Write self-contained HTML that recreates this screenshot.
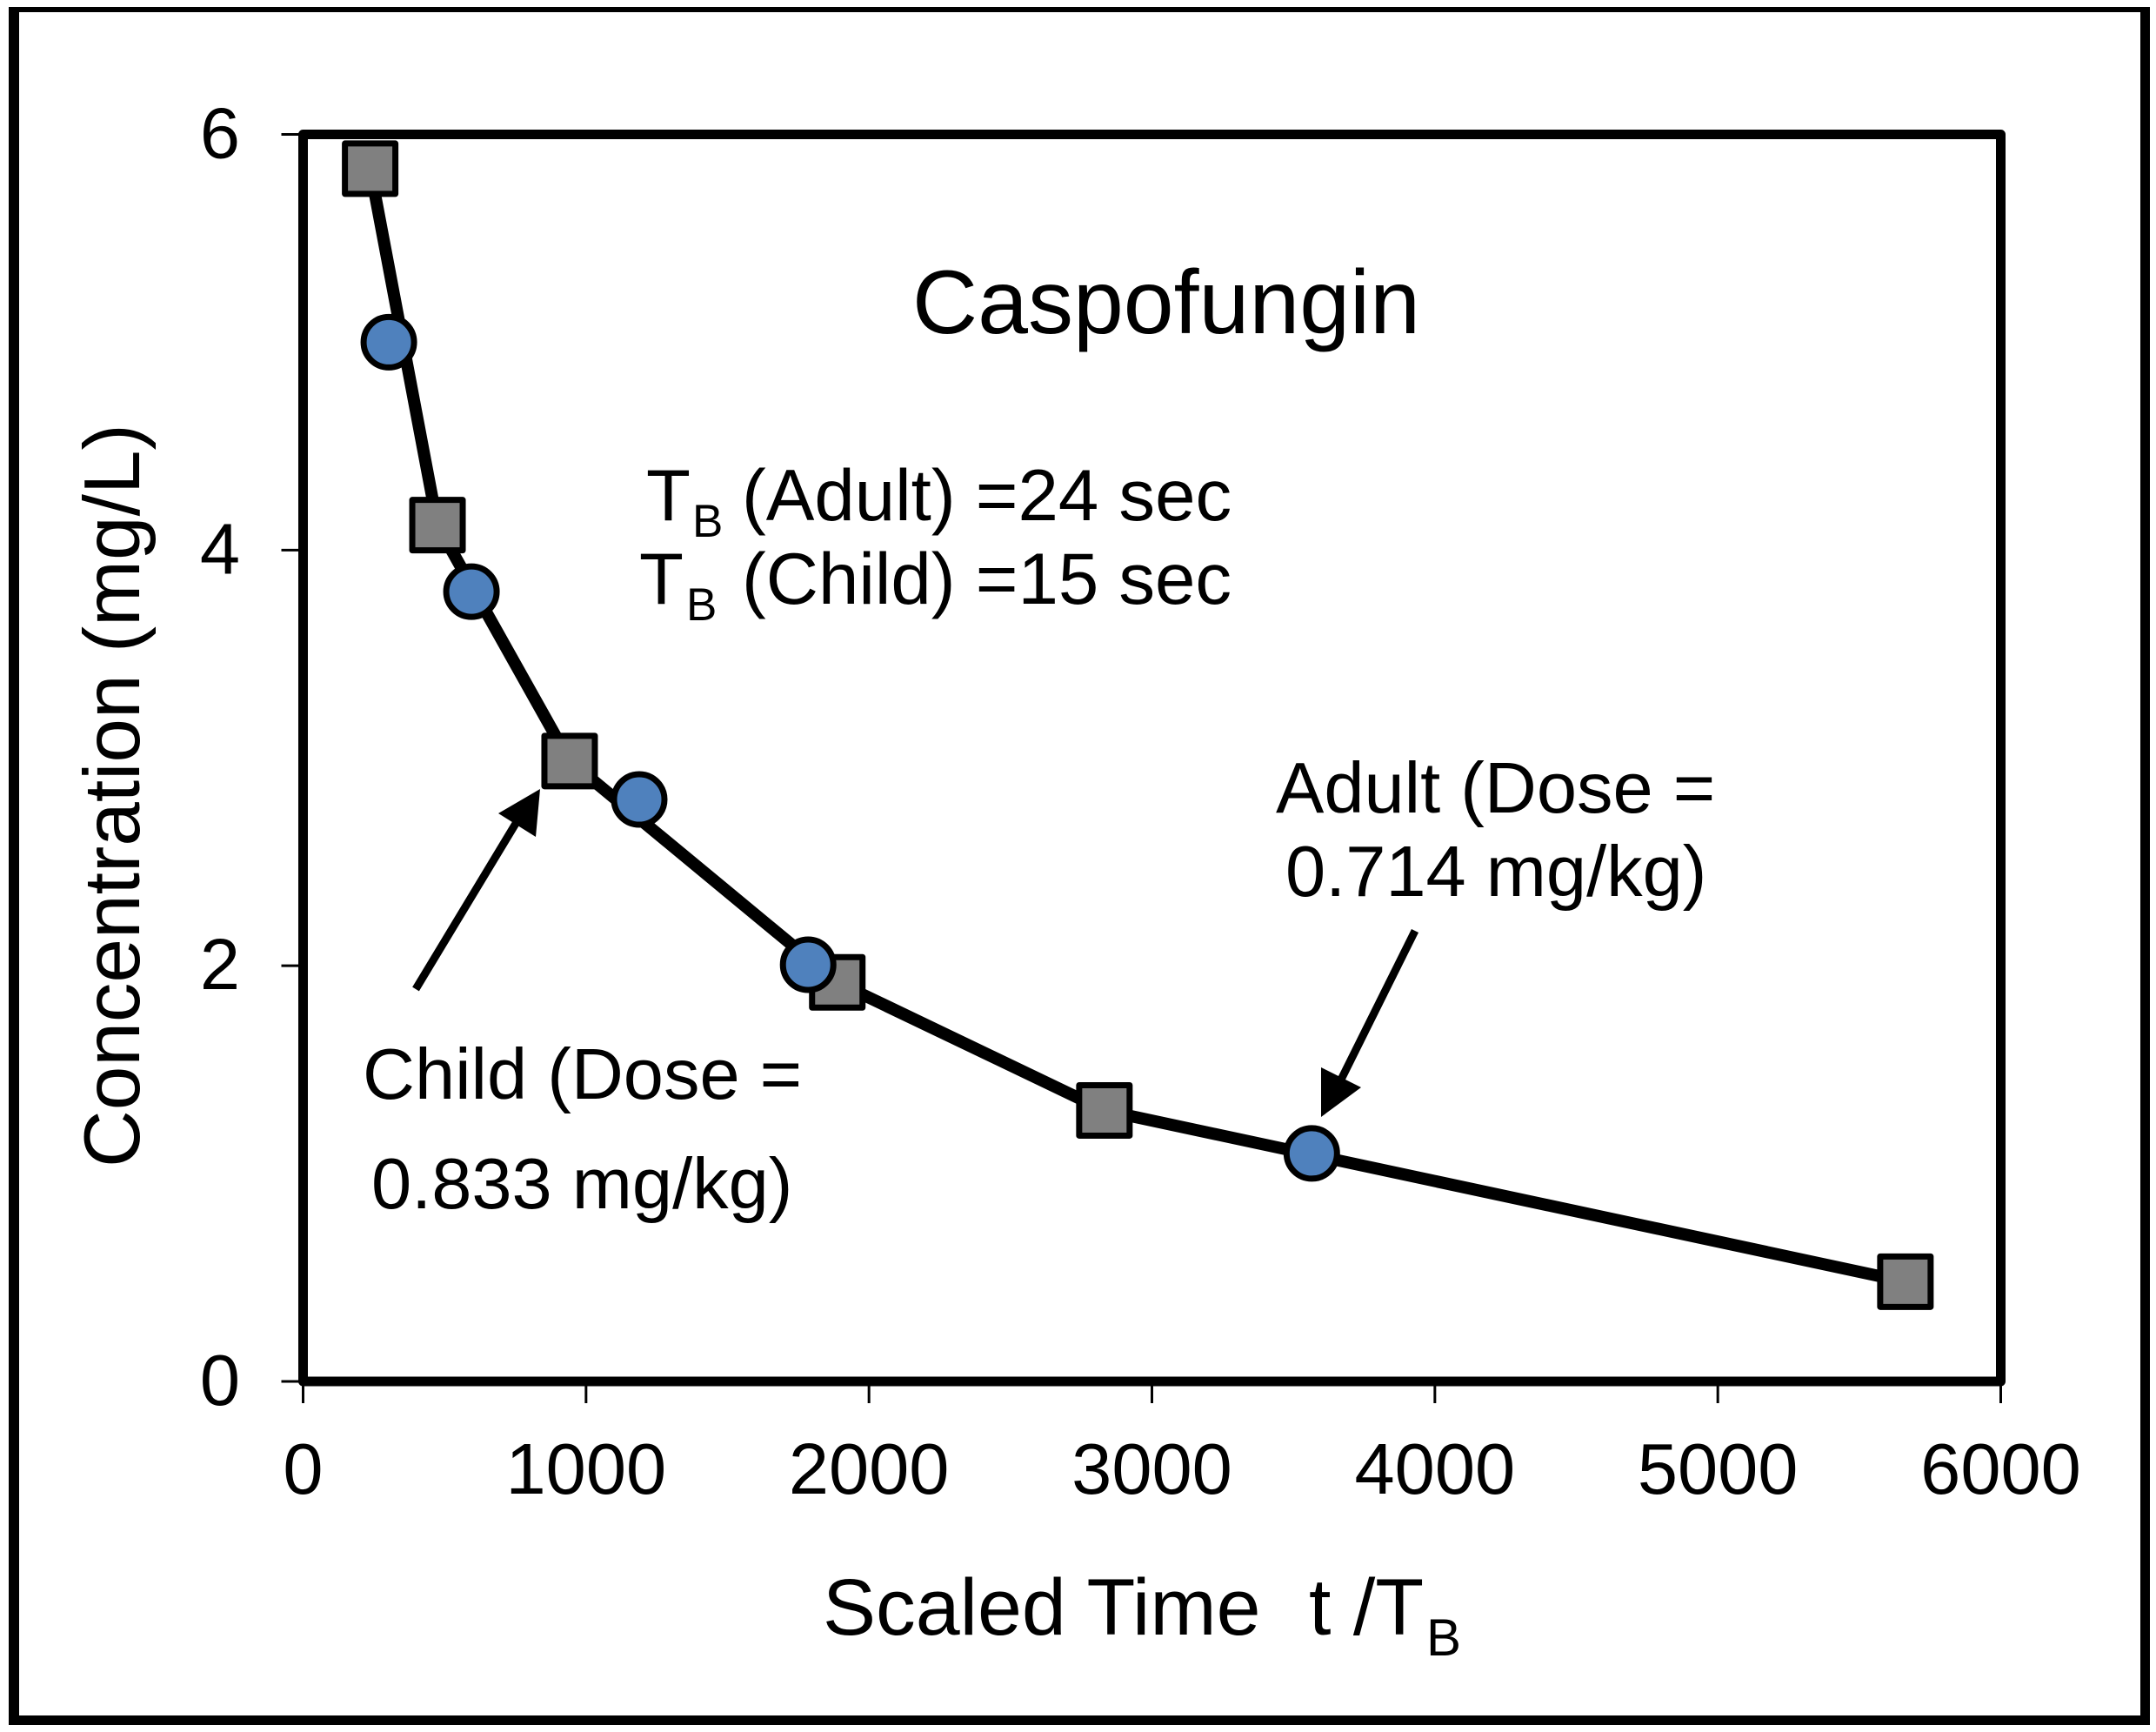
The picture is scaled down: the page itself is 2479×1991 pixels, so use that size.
<!DOCTYPE html>
<html>
<head>
<meta charset="utf-8">
<title>Caspofungin concentration vs scaled time</title>
<style>
html,body{margin:0;padding:0;background:#fff;width:2479px;height:1991px;overflow:hidden}
svg{display:block}
text{font-family:"Liberation Sans",sans-serif;fill:#000}
</style>
</head>
<body>
<svg id="chart" width="2479" height="1991" viewBox="0 0 2479 1991" xmlns="http://www.w3.org/2000/svg">
  <rect x="0" y="0" width="2479" height="1991" fill="#fff"/>
  <path d="M10 8H2472V1983H10Z M22 14V1972H2461V14Z" fill="#000" fill-rule="evenodd"/>
  <rect x="348.5" y="154.5" width="1952" height="1433.5" fill="none" stroke="#000" stroke-width="11" stroke-linejoin="round"/>
  <g id="ticks"></g>
  <g id="series-line"></g>
  <g id="markers"></g>

  <text x="1049" y="383" font-size="104">Caspofungin</text>

  <text y="598" font-size="83.4"><tspan x="743">T</tspan><tspan x="796" font-size="53" dy="19">B</tspan><tspan x="853" dy="-19">(Adult) =24 sec</tspan></text>
  <text y="694" font-size="83.4"><tspan x="735">T</tspan><tspan x="789" font-size="53" dy="19">B</tspan><tspan x="853" dy="-19">(Child) =15 sec</tspan></text>

  <text x="1467" y="934" font-size="83">Adult (Dose =</text>
  <text x="1478" y="1030" font-size="83">0.714 mg/kg)</text>
  <text x="417" y="1263" font-size="83">Child (Dose =</text>
  <text x="427" y="1389" font-size="83">0.833 mg/kg)</text>

  <g>
    <line x1="478" y1="1137" x2="597" y2="940" stroke="#000" stroke-width="9"/>
    <polygon points="621,907 616,962 573,935" fill="#000"/>
  </g>
  <g>
    <line x1="1627" y1="1070" x2="1540" y2="1245" stroke="#000" stroke-width="9"/>
    <polygon points="1519,1284 1519,1227 1565,1250" fill="#000"/>
  </g>

  <text y="1879" font-size="91.5"><tspan x="946">Scaled Time</tspan><tspan x="1505">t /T</tspan><tspan x="1640" font-size="60" dy="24">B</tspan></text>
  <text transform="translate(160,1342) rotate(-90)" font-size="91">Concentration (mg/L)</text>
</svg>
<script>
// Chart data
const xTickValues = [0, 1000, 2000, 3000, 4000, 5000, 6000];
const yTickValues = [0, 2, 4, 6];
const childTimes = [237, 475, 942, 1888, 2832, 5663];
const childConcentrations = [5.835, 4.12, 2.985, 1.92, 1.304, 0.48];
const adultTimes = [303, 595, 1188, 1785, 3565];
const adultConcentrations = [5.0, 3.80, 2.80, 2.005, 1.097];

const NS = 'http://www.w3.org/2000/svg';
const plot = { left: 348.5, right: 2300.5, top: 154.5, bottom: 1588 };
const xMax = 6000;
const yMax = 6;
function xScale(v) { return plot.left + (v / xMax) * (plot.right - plot.left); }
function yScale(v) { return plot.bottom - (v / yMax) * (plot.bottom - plot.top); }

function make(tag, attrs, parent) {
  const el = document.createElementNS(NS, tag);
  Object.keys(attrs).forEach(function (k) { el.setAttribute(k, attrs[k]); });
  parent.appendChild(el);
  return el;
}

const ticks = document.getElementById('ticks');
xTickValues.forEach(function (v) {
  const x = xScale(v);
  const t = make('line', { x1: x, x2: x, y1: plot.bottom, y2: plot.bottom + 25, stroke: '#000', 'stroke-width': 3 }, ticks);
  
  
  const l = make('text', { x: x, y: 1717, 'font-size': 83, 'text-anchor': 'middle' }, ticks);
  l.textContent = String(v);
  
  
});
yTickValues.forEach(function (v) {
  const y = yScale(v);
  const t = make('line', { x1: plot.left - 25, x2: plot.left, y1: y, y2: y, stroke: '#000', 'stroke-width': 3 }, ticks);
  
  
  const l = make('text', { x: 276, y: y + 27, 'font-size': 83, 'text-anchor': 'end' }, ticks);
  l.textContent = String(v);
  
  
});

// The line runs through the child series; adult circles sit on top of it
const linePoints = childTimes.map(function (t, i) { return xScale(t) + ',' + yScale(childConcentrations[i]); }).join(' ');
const poly = make('polyline', { points: linePoints, fill: 'none', stroke: '#000', 'stroke-width': 14, 'stroke-linejoin': 'round' }, document.getElementById('series-line'));



const markers = document.getElementById('markers');
const markerSize = 58;
childTimes.forEach(function (t, i) {
  const x = xScale(t), y = yScale(childConcentrations[i]);
  const s = make('rect', { x: x - markerSize / 2, y: y - markerSize / 2, width: markerSize, height: markerSize, fill: '#808080', stroke: '#000', 'stroke-width': 7, 'stroke-linejoin': 'round' }, markers);
  
  
});
adultTimes.forEach(function (t, i) {
  const x = xScale(t), y = yScale(adultConcentrations[i]);
  const c = make('circle', { cx: x, cy: y, r: markerSize / 2, fill: '#4F81BD', stroke: '#000', 'stroke-width': 7 }, markers);
  
  
});
</script>
</body>
</html>
